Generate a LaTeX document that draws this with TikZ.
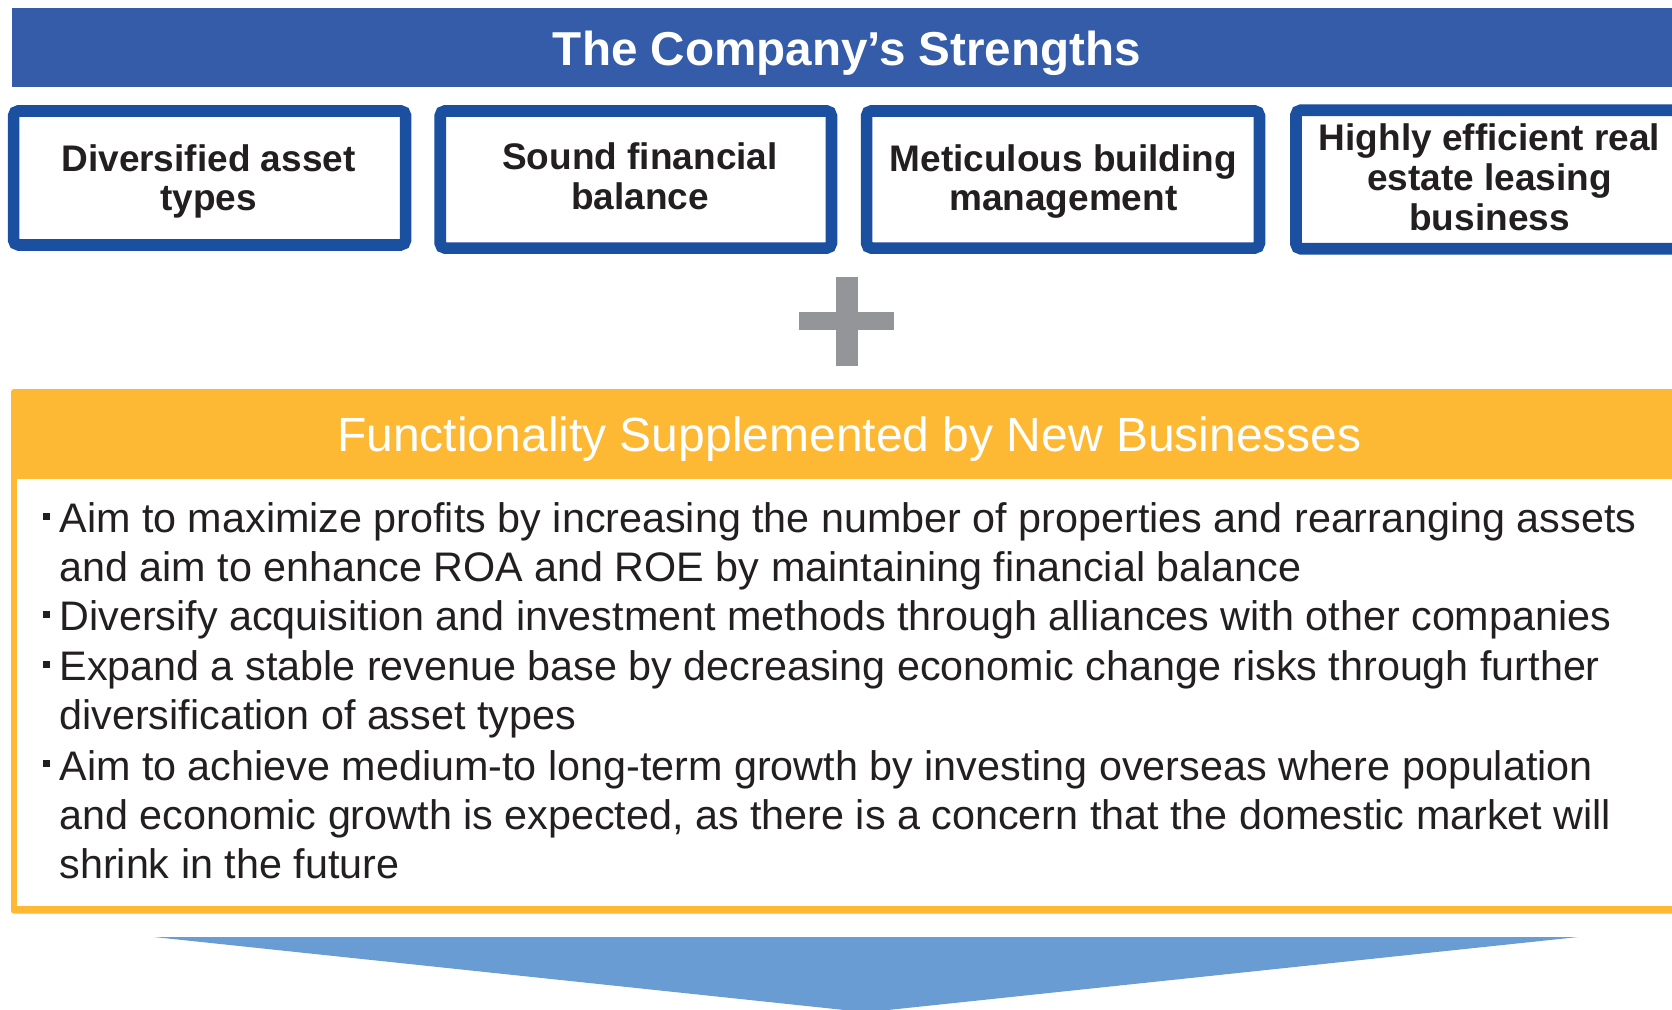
\documentclass[tikz,border=0pt]{standalone}
\usepackage{fontspec}
\setmainfont{Liberation Sans}
\definecolor{titleblue}{HTML}{355CA9}
\definecolor{boxblue}{HTML}{1B4F9F}
\definecolor{orangeY}{HTML}{FDB933}
\definecolor{arrowblue}{HTML}{689CD2}
\definecolor{plusgray}{HTML}{939598}
\definecolor{txt}{HTML}{231F20}
\tikzset{
  strengthbox/.style={draw=boxblue, line width=11.7pt, rounded corners=5pt, fill=white, inner sep=0pt, outer sep=0pt},
  boxtext/.style={anchor=base, inner sep=0pt, text=txt, font=\fontsize{37}{40}\selectfont\bfseries},
  bodytext/.style={anchor=base west, inner sep=0pt, text=txt, font=\fontsize{41.3}{49.5}\selectfont},
}
\newcommand{\bul}{\makebox[0pt][r]{\rule[13pt]{6.9pt}{6.9pt}\hspace{9.3pt}}}
\begin{document}
\begin{tikzpicture}[x=1pt,y=-1pt]
\useasboundingbox (0,0) rectangle (1672,1009);
\clip (0,0) rectangle (1672,1009);
% title bar
\fill[titleblue] (11.5,7.5) rectangle (1690,86.5);
\node[anchor=base, inner sep=0pt, text=white, font=\fontsize{47.6}{50}\selectfont\bfseries] (title) at (847,65) {The Company’s Strengths};
% strength boxes
\node[strengthbox, minimum width=392pt, minimum height=134pt] (b1) at (209.6,177.9) {};
\node[strengthbox, minimum width=391.2pt, minimum height=137.2pt] (b2) at (635.8,179.5) {};
\node[strengthbox, minimum width=392.8pt, minimum height=137.2pt] (b3) at (1063,179.5) {};
\node[strengthbox, minimum width=391pt, minimum height=138.6pt] (b4) at (1491.5,179.5) {};
\node[boxtext] (t1a) at (208.5,171.7) {Diversified asset};
\node[boxtext] (t1b) at (208.5,210.7) {types};
\node[boxtext] (t2a) at (640,169) {Sound financial};
\node[boxtext] (t2b) at (640,209) {balance};
\node[boxtext] (t3a) at (1063.3,171) {Meticulous building};
\node[boxtext] (t3b) at (1063.3,210) {management};
\node[boxtext] (t4a) at (1489.5,150.7) {Highly efficient real};
\node[boxtext] (t4b) at (1489.5,190.7) {estate leasing};
\node[boxtext] (t4c) at (1489.5,230) {business};
% plus sign
\fill[plusgray] (835.7,276.7) rectangle (858.3,366);
\fill[plusgray] (799.3,312.3) rectangle (894.3,330.3);
% orange panel
\fill[orangeY, rounded corners=3pt] (11,389) rectangle (1690,913.7);
\fill[white] (17,479) rectangle (1690,905.7);
\node[anchor=base, inner sep=0pt, text=white, font=\fontsize{48}{50}\selectfont] (otitle) at (849.5,451.7) {Functionality Supplemented by New Businesses};
\node[bodytext] (l1) at (59.3,532.5) {\bul Aim to maximize profits by increasing the number of properties and rearranging assets};
\node[bodytext] (l2) at (59.3,581.5) {and aim to enhance ROA and ROE by maintaining financial balance};
\node[bodytext] (l3) at (59.3,630.8) {\bul Diversify acquisition and investment methods through alliances with other companies};
\node[bodytext] (l4) at (59.3,680.5) {\bul Expand a stable revenue base by decreasing economic change risks through further};
\node[bodytext] (l5) at (59.3,729.8) {diversification of asset types};
\node[bodytext] (l6) at (59.3,780) {\bul Aim to achieve medium-to long-term growth by investing overseas where population};
\node[bodytext] (l7) at (59.3,829.3) {and economic growth is expected, as there is a concern that the domestic market will};
\node[bodytext] (l8) at (59.3,878.8) {shrink in the future};
% down arrow
\fill[arrowblue] (154,937) -- (1578.3,937) -- (866.2,1012.3) -- cycle;
\end{tikzpicture}
\end{document}
